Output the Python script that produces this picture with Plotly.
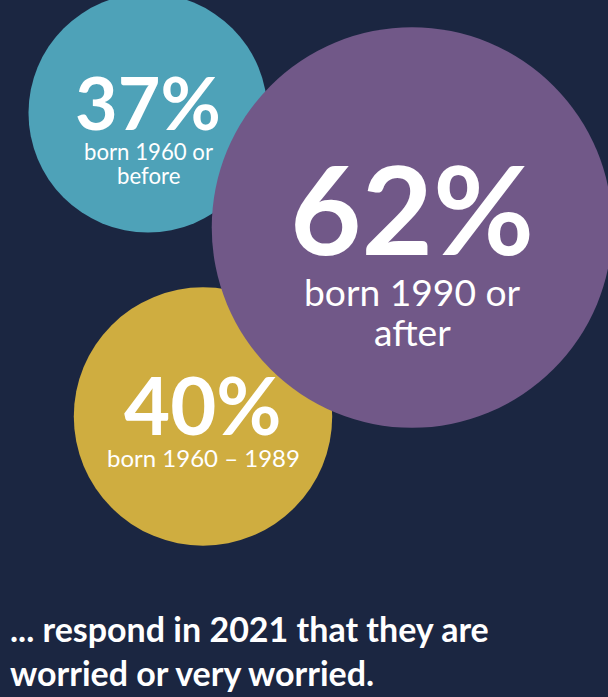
import plotly.graph_objects as go

# ---- data ----
categories = ["born 1960 or before", "born 1960 – 1989", "born 1990 or after"]
values = [37, 40, 62]                      # % worried or very worried
pct_labels = ["37%", "40%", "62%"]
group_labels = ["born 1960 or\nbefore", "born 1960 – 1989", "born 1990 or\nafter"]
footnote = "... respond in 2021 that they are<br>worried or very worried."

# ---- layout / style ----
W, H = 608, 697
BG = "#1b2641"
colors = ["#4ea2b8", "#cfad40", "#715888"]
bubble_x = [148, 203, 412]     # bubble centre positions (packing layout)
bubble_y = [113, 416.5, 227.5]
PX_PER_PCT = 3.23              # bubble radius in px per percentage point
PCT_FONT_PER_PCT = 1.99
LABEL_FONT_PER_PCT = 0.60
FONT = "Lato, 'Open Sans', sans-serif"

fig = go.Figure()
fig.add_trace(go.Scatter(
    x=bubble_x, y=bubble_y, mode="markers",
    marker=dict(size=values, sizemode="diameter", sizeref=1 / (2 * PX_PER_PCT),
                color=colors, opacity=1, line=dict(width=0)),
    hoverinfo="skip", cliponaxis=False,
))

annotations = []
for v, cx, cy, pct, lab in zip(values, bubble_x, bubble_y, pct_labels, group_labels):
    r = v * PX_PER_PCT
    pfs = v * PCT_FONT_PER_PCT
    lfs = v * LABEL_FONT_PER_PCT
    annotations.append(dict(x=cx, y=cy - 0.10 * r, xref="x", yref="y", text=f"<b>{pct}</b>",
                            showarrow=False, xanchor="center", yanchor="middle",
                            font=dict(family=FONT, size=pfs, color="white")))
    for i, line in enumerate(lab.split("\n")):
        annotations.append(dict(x=cx, y=cy + 0.32 * r + i * 1.07 * lfs, xref="x", yref="y",
                                text=line, showarrow=False, xanchor="center", yanchor="middle",
                                font=dict(family=FONT, size=lfs, color="white")))

annotations.append(dict(x=8, y=606, xref="x", yref="y", text=f"<b>{footnote}</b>",
                        showarrow=False, xanchor="left", yanchor="top", align="left",
                        font=dict(family=FONT, size=34, color="white")))

fig.update_layout(
    width=W, height=H, margin=dict(l=0, r=0, t=0, b=0),
    paper_bgcolor=BG, plot_bgcolor=BG, showlegend=False,
    xaxis=dict(range=[0, W], visible=False, fixedrange=True),
    yaxis=dict(range=[H, 0], visible=False, fixedrange=True),
    annotations=annotations,
)

fig.write_html("out.html", config={"displayModeBar": False},
               post_script="document.body.style.margin='0';document.body.style.overflow='hidden';")
